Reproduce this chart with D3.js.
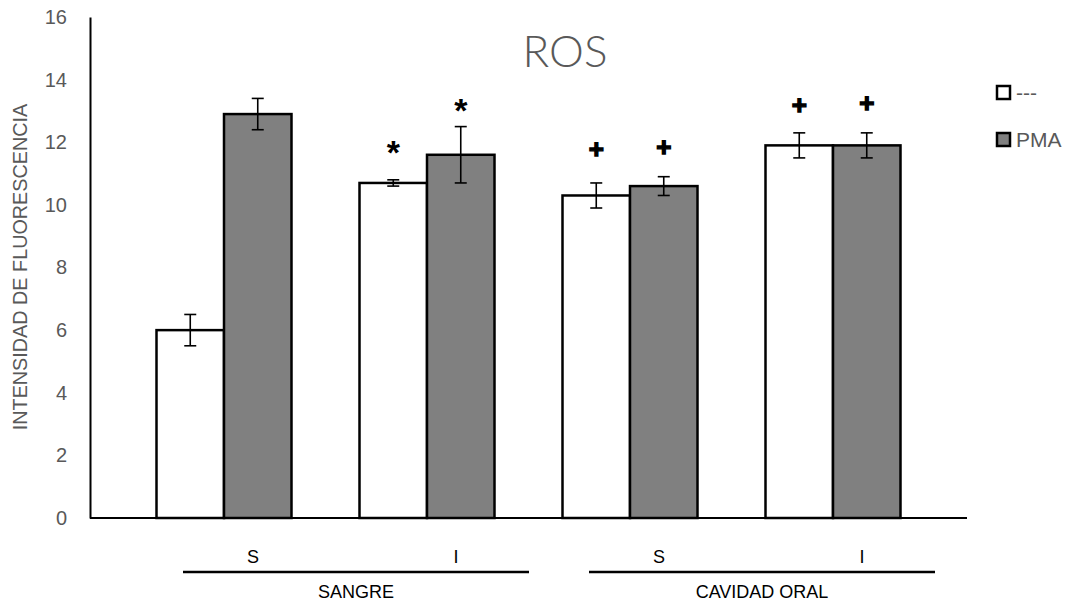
<!DOCTYPE html>
<html>
<head>
<meta charset="utf-8">
<script src="https://cdn.jsdelivr.net/npm/d3@7"></script>
<style>
  html, body { margin: 0; padding: 0; background: #fff; }
  svg { display: block; }
  text { font-family: "Liberation Sans", Arial, sans-serif; }
</style>
</head>
<body>
<svg id="chart" width="1065" height="607"></svg>
<script>
// ---- data ----
const groups = ["SANGRE", "CAVIDAD ORAL"];
const categories = ["S", "I", "S", "I"];
const categoryGroup = [0, 0, 1, 1];
const seriesNames = ["---", "PMA"];
const valuesControl = [6.0, 10.7, 10.3, 11.9];
const valuesPMA = [12.9, 11.6, 10.6, 11.9];
const errControl = [0.5, 0.1, 0.4, 0.4];
const errPMA = [0.5, 0.9, 0.3, 0.4];
const markerSymbol = ["", "*", "+", "+"];
const markerControl = [null, 11.83, 11.79, 13.19];
const markerPMA = [null, 13.16, 11.85, 13.26];
const yTicks = [0, 2, 4, 6, 8, 10, 12, 14, 16];
const chartTitle = "ROS";
const yTitle = "INTENSIDAD DE FLUORESCENCIA";

// ---- layout ----
const svg = d3.select("#chart");
const y = d3.scaleLinear().domain([0, 16]).range([518, 17]);
const x = d3.scaleBand().domain(d3.range(categories.length))
  .range([122.5, 934.5]).paddingInner(0.335).paddingOuter(0.1675);
const xs = d3.scaleBand().domain([0, 1]).range([0, x.bandwidth()]).padding(0);
const fills = ["#ffffff", "#808080"];
const seriesVals = [valuesControl, valuesPMA];
const seriesErr = [errControl, errPMA];
const seriesMark = [markerControl, markerPMA];

// title
svg.append("text").attr("x", 565).attr("y", 67).attr("text-anchor", "middle")
  .style("font-family", "Lato, 'Open Sans', sans-serif").style("font-weight", 300)
  .style("font-size", "44px").attr("fill", "#595959").text(chartTitle);

// y axis
const yAxis = d3.axisLeft(y).tickValues(yTicks).tickSize(0).tickPadding(23);
const gy = svg.append("g").attr("transform", "translate(90,0)").call(yAxis);
gy.select(".domain").attr("stroke", "#000").attr("stroke-width", 2);
gy.selectAll("text").style("font-size", "20px").attr("fill", "#595959")
  .style("font-family", "'Liberation Sans', Arial, sans-serif");

// y title
svg.append("text").attr("transform", "translate(27,267) rotate(-90)")
  .attr("text-anchor", "middle").style("font-size", "19.8px").attr("fill", "#595959")
  .text(yTitle);

// bars
for (let s = 0; s < 2; s++) {
  const g = svg.append("g");
  g.selectAll("rect").data(seriesVals[s]).join("rect")
    .attr("x", (d, i) => x(i) + xs(s))
    .attr("y", d => y(d))
    .attr("width", xs.bandwidth())
    .attr("height", d => y(0) - y(d))
    .attr("fill", fills[s]).attr("stroke", "#000").attr("stroke-width", 2.5);
}

// x axis line
svg.append("line").attr("x1", 90).attr("x2", 967).attr("y1", y(0)).attr("y2", y(0))
  .attr("stroke", "#000").attr("stroke-width", 2);

// error bars
for (let s = 0; s < 2; s++) {
  const g = svg.append("g").attr("stroke", "#000").attr("stroke-width", 1.6);
  seriesVals[s].forEach((v, i) => {
    const cx = x(i) + xs(s) + xs.bandwidth() / 2;
    const e = seriesErr[s][i];
    g.append("line").attr("x1", cx).attr("x2", cx).attr("y1", y(v + e)).attr("y2", y(v - e));
    g.append("line").attr("x1", cx - 6).attr("x2", cx + 6).attr("y1", y(v + e)).attr("y2", y(v + e));
    g.append("line").attr("x1", cx - 6).attr("x2", cx + 6).attr("y1", y(v - e)).attr("y2", y(v - e));
  });
}

// significance markers
for (let s = 0; s < 2; s++) {
  seriesMark[s].forEach((m, i) => {
    if (m == null) return;
    const cx = x(i) + xs(s) + xs.bandwidth() / 2;
    const sym = markerSymbol[i];
    const t = svg.append("text").attr("x", cx).attr("text-anchor", "middle")
      .attr("fill", "#000").style("font-weight", "bold").text(sym);
    if (sym === "*") {
      t.attr("y", y(m) + 16).style("font-size", "34px");
    } else {
      t.attr("y", y(m) + 9).style("font-size", "26px")
        .attr("stroke", "#000").attr("stroke-width", 1.4);
    }
  });
}

// category labels
const labelOffset = 29;
svg.append("g").selectAll("text").data(categories).join("text")
  .attr("x", (d, i) => x(i) + x.bandwidth() / 2 + labelOffset)
  .attr("y", 563).attr("text-anchor", "middle")
  .style("font-size", "18px").attr("fill", "#000").text(d => d);

// group lines and labels
groups.forEach((gname, gi) => {
  const idx = d3.range(categories.length).filter(i => categoryGroup[i] === gi);
  const c0 = x(idx[0]) + x.bandwidth() / 2;
  const c1 = x(idx[idx.length - 1]) + x.bandwidth() / 2;
  const x1 = c0 - 41, x2 = c1 + 102;
  svg.append("line").attr("x1", x1).attr("x2", x2).attr("y1", 572).attr("y2", 572)
    .attr("stroke", "#000").attr("stroke-width", 2.5);
  svg.append("text").attr("x", (x1 + x2) / 2).attr("y", 598).attr("text-anchor", "middle")
    .style("font-size", "18px").attr("fill", "#000").text(gname);
});

// legend
const leg = svg.append("g");
seriesNames.forEach((n, s) => {
  const yy = 86 + s * 47;
  leg.append("rect").attr("x", 997).attr("y", yy).attr("width", 13).attr("height", 13)
    .attr("fill", fills[s]).attr("stroke", "#000").attr("stroke-width", 2.5);
  leg.append("text").attr("x", 1016).attr("y", yy + 14).style("font-size", "21px")
    .attr("fill", "#595959").text(n);
});
</script>
</body>
</html>
